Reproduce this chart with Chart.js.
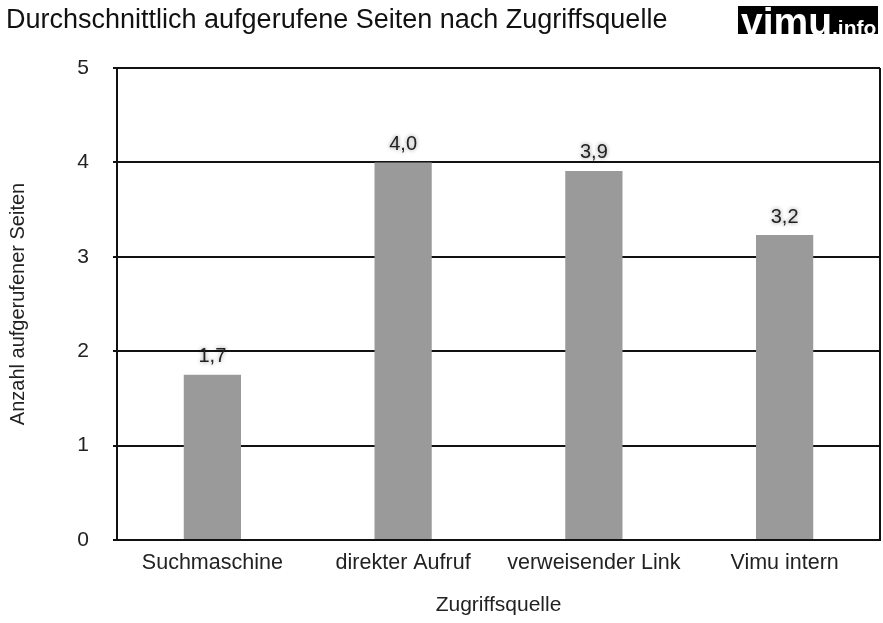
<!DOCTYPE html>
<html>
<head>
<meta charset="utf-8">
<script src="https://cdn.jsdelivr.net/npm/chart.js@4"></script>
<style>
  body { margin: 0; background: #fff; }
  canvas { display: block; }
</style>
</head>
<body>
<canvas id="grafico" width="883" height="623"></canvas>
<script>
const quellen = ['Suchmaschine', 'direkter Aufruf', 'verweisender Link', 'Vimu intern'];
const seiten = [1.75, 4.0, 3.91, 3.23];
const yTicks = [0, 1, 2, 3, 4, 5];

const schrift = '"Liberation Sans", Arial, Helvetica, sans-serif';

// Werte über den Balken, mit leichtem Schatten wie im Original
const wertePlugin = {
  id: 'werte',
  afterDatasetsDraw(chart) {
    const ctx = chart.ctx;
    const meta = chart.getDatasetMeta(0);
    ctx.save();
    ctx.font = '20px ' + schrift;
    ctx.fillStyle = '#222';
    ctx.textAlign = 'center';
    ctx.textBaseline = 'middle';
    ctx.shadowColor = 'rgba(0,0,0,0.45)';
    ctx.shadowBlur = 4;
    meta.data.forEach((bar, i) => {
      const txt = (Math.floor(seiten[i] * 10) / 10).toFixed(1).replace('.', ',');
      ctx.fillText(txt, bar.x, bar.y - 18);
    });
    ctx.restore();
  }
};

// rechter Rahmen und Logo
const rahmenPlugin = {
  id: 'rahmen',
  afterDraw(chart) {
    const ctx = chart.ctx;
    const a = chart.chartArea;
    ctx.save();
    ctx.strokeStyle = '#111';
    ctx.lineWidth = 2;
    ctx.beginPath();
    ctx.moveTo(a.right, a.top);
    ctx.lineTo(a.right, a.bottom);
    ctx.stroke();

    ctx.fillStyle = '#000';
    ctx.fillRect(738, 6, 140, 28);
    ctx.fillStyle = '#fff';
    ctx.textBaseline = 'alphabetic';
    ctx.font = 'bold 39px ' + schrift;
    ctx.fillText('vimu', 741, 35);
    const w = ctx.measureText('vimu').width;
    ctx.font = 'bold 21px ' + schrift;
    ctx.fillText('.info', 741 + w, 35);
    ctx.restore();
  }
};

new Chart(document.getElementById('grafico').getContext('2d'), {
  type: 'bar',
  data: {
    labels: quellen,
    datasets: [{
      label: 'Anzahl aufgerufener Seiten',
      data: seiten,
      backgroundColor: '#9a9a9a',
      borderWidth: 0,
      barPercentage: 0.3,
      categoryPercentage: 1
    }]
  },
  options: {
    responsive: false,
    animation: false,
    layout: { padding: { left: 6, right: 3, top: 0, bottom: 0 } },
    plugins: {
      legend: { display: false },
      tooltip: { enabled: false },
      title: {
        display: true,
        text: 'Durchschnittlich aufgerufene Seiten nach Zugriffsquelle',
        align: 'start',
        color: '#111',
        font: { family: schrift, size: 27, weight: 'normal' },
        padding: { top: 4, bottom: 31.6 }
      }
    },
    scales: {
      x: {
        grid: { display: false },
        border: { display: true, color: '#111', width: 2 },
        ticks: { color: '#222', font: { family: schrift, size: 21.5 }, padding: 2 },
        title: {
          display: true,
          text: 'Zugriffsquelle',
          color: '#222',
          font: { family: schrift, size: 21 },
          padding: { top: 10, bottom: 5 }
        },
        afterFit(scale) { scale.height = 83; }
      },
      y: {
        min: 0,
        max: 5,
        afterBuildTicks(scale) { scale.ticks = yTicks.map(v => ({ value: v })); },
        grid: { color: '#111', lineWidth: 2, tickLength: 4 },
        border: { display: true, color: '#111', width: 2 },
        ticks: { color: '#222', font: { family: schrift, size: 21 }, padding: 24 },
        title: {
          display: true,
          text: 'Anzahl aufgerufener Seiten',
          color: '#222',
          font: { family: schrift, size: 20 },
          padding: { top: 0, bottom: 0 }
        },
        afterFit(scale) { scale.width = 111; }
      }
    }
  },
  plugins: [wertePlugin, rahmenPlugin]
});
</script>
</body>
</html>
